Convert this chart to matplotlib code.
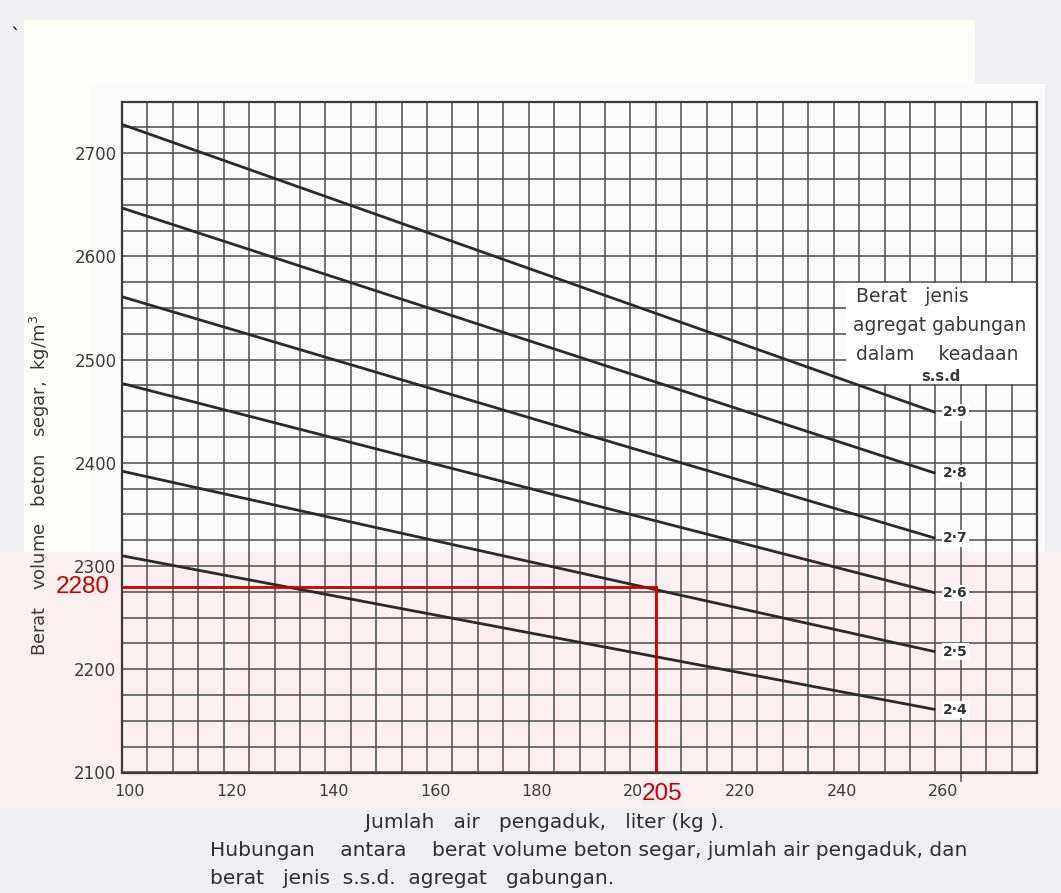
import matplotlib
matplotlib.use("Agg")
import matplotlib.pyplot as plt
import numpy as np
from matplotlib.patches import Rectangle
from matplotlib.transforms import ScaledTranslation, offset_copy

# Mixing water (litre/kg) at the two ends of each curve
water = [100, 260]
# Specific gravity of combined aggregate (SSD) labels
sg_labels = ["2·4", "2·5", "2·6", "2·7", "2·8", "2·9"]
# Fresh concrete density (kg/m3) at 100 and 260 kg of water
density_start = [2310, 2392, 2477, 2561, 2647, 2728]
density_end = [2161, 2217, 2274, 2327, 2390, 2449]

x_ticks = [100, 120, 140, 160, 180, 200, 220, 240, 260]
y_ticks = [2100, 2200, 2300, 2400, 2500, 2600, 2700]

# Worked example
example_water = 205
example_density = 2280

W, H, DPI = 1061, 893, 100
fig = plt.figure(figsize=(W / DPI, H / DPI), dpi=DPI, facecolor="#f0f0f3")

def px_rect(x0, y0, x1, y1, color):
    fig.patches.append(Rectangle((x0 / W, 1 - y1 / H), (x1 - x0) / W, (y1 - y0) / H,
                                 transform=fig.transFigure, facecolor=color,
                                 edgecolor="none", zorder=-10))

px_rect(24, 20, 975, 552, "#fefef8")
px_rect(90, 84, 1045, 552, "#fbfbfb")
px_rect(0, 552, 1061, 808, "#fcefef")

ax = fig.add_axes([122 / W, 1 - 772.5 / H, (1037 - 122) / W, (772.5 - 101.7) / H])
ax.patch.set_alpha(0)
ax.set_xlim(100, 280)
ax.set_ylim(2100, 2750)

ax.set_xticks(x_ticks)
ax.set_yticks(y_ticks)
ax.set_xticks(np.arange(100, 281, 5), minor=True)
ax.set_yticks(np.arange(2100, 2751, 25), minor=True)
ax.grid(which="both", color="#4d4d4d", linewidth=1.1, zorder=1)
ax.set_axisbelow(True)
ax.tick_params(which="both", length=0)
ax.tick_params(axis="x", pad=8, labelsize=11.5, labelcolor="#3c3c3c")
ax.tick_params(axis="y", pad=4, labelsize=12, labelcolor="#3c3c3c")
for lab in ax.get_xticklabels():
    lab.set_transform(lab.get_transform() + ScaledTranslation(8 / DPI, 0, fig.dpi_scale_trans))
for sp in ax.spines.values():
    sp.set_color("#3a3a3a")
    sp.set_linewidth(1.6)

# Legend box in the upper right
ax.add_patch(Rectangle((242.5, 2476), 37.4, 98, facecolor="white", edgecolor="none", zorder=2))
txt_kw = dict(fontsize=13.5, color="#3a3a3a", va="center", zorder=5)
ax.text(244.3, 2561, "Berat   jenis", ha="left", **txt_kw)
ax.text(243.8, 2533, "agregat gabungan", ha="left", **txt_kw)
ax.text(244.3, 2505, "dalam    keadaan", ha="left", **txt_kw)
ax.text(261.0, 2484, "s.s.d", ha="center", fontsize=10.5, fontweight="bold",
        color="#3a3a3a", va="center", zorder=5)

# Density curves for each specific gravity
for lab, d0, d1 in zip(sg_labels, density_start, density_end):
    ax.plot(water, [d0, d1], color="#2b2b2b", linewidth=2.0, zorder=4, solid_capstyle="butt")
    ax.text(water[1] + 4.0, d1, lab, ha="center", va="center", fontsize=10,
            fontweight="bold", color="#333333", zorder=5,
            bbox=dict(facecolor="white", edgecolor="none", pad=1.0))

# Protruding guide tick at 265
ax.plot([265, 265], [2100, 2092], color="#4d4d4d", linewidth=1.1, clip_on=False)

# Worked example in red
red = "#cc0000"
ax.plot([100, example_water], [example_density, example_density], color=red, linewidth=2, zorder=6)
ax.plot([example_water, example_water], [example_density, 2100], color=red, linewidth=2, zorder=6)
ax.text(100, example_density, str(example_density), color=red, fontsize=17.5,
        family="Liberation Sans", ha="right", va="center",
        transform=offset_copy(ax.transData, fig=fig, x=-12, y=0, units="dots"))
ax.text(example_water, 2100, str(example_water), color=red, fontsize=17.5,
        family="Liberation Sans", ha="center", va="center", zorder=7,
        bbox=dict(facecolor="#f3eeef", edgecolor="none", pad=0.5),
        transform=offset_copy(ax.transData, fig=fig, x=6, y=-22, units="dots"))

# Axis titles and caption
fig.text(40 / W, 1 - 485 / H, "Berat   volume   beton   segar,  kg/m$^3$", rotation=90,
         ha="center", va="center", fontsize=13, color="#3a3a3a")
fig.text(545 / W, 1 - 823 / H, "Jumlah   air   pengaduk,   liter (kg ).", ha="center",
         va="center", fontsize=14.5, color="#2e2e2e")
fig.text(210 / W, 1 - 850 / H,
         "Hubungan    antara    berat volume beton segar, jumlah air pengaduk, dan",
         ha="left", va="center", fontsize=14.5, color="#2e2e2e")
fig.text(210 / W, 1 - 878 / H, "berat   jenis  s.s.d.  agregat   gabungan.",
         ha="left", va="center", fontsize=14.5, color="#2e2e2e")
fig.text(10 / W, 1 - 36 / H, "`", ha="left", va="center", fontsize=14, color="#111111")

fig.savefig("out.png", dpi=DPI, facecolor=fig.get_facecolor())
